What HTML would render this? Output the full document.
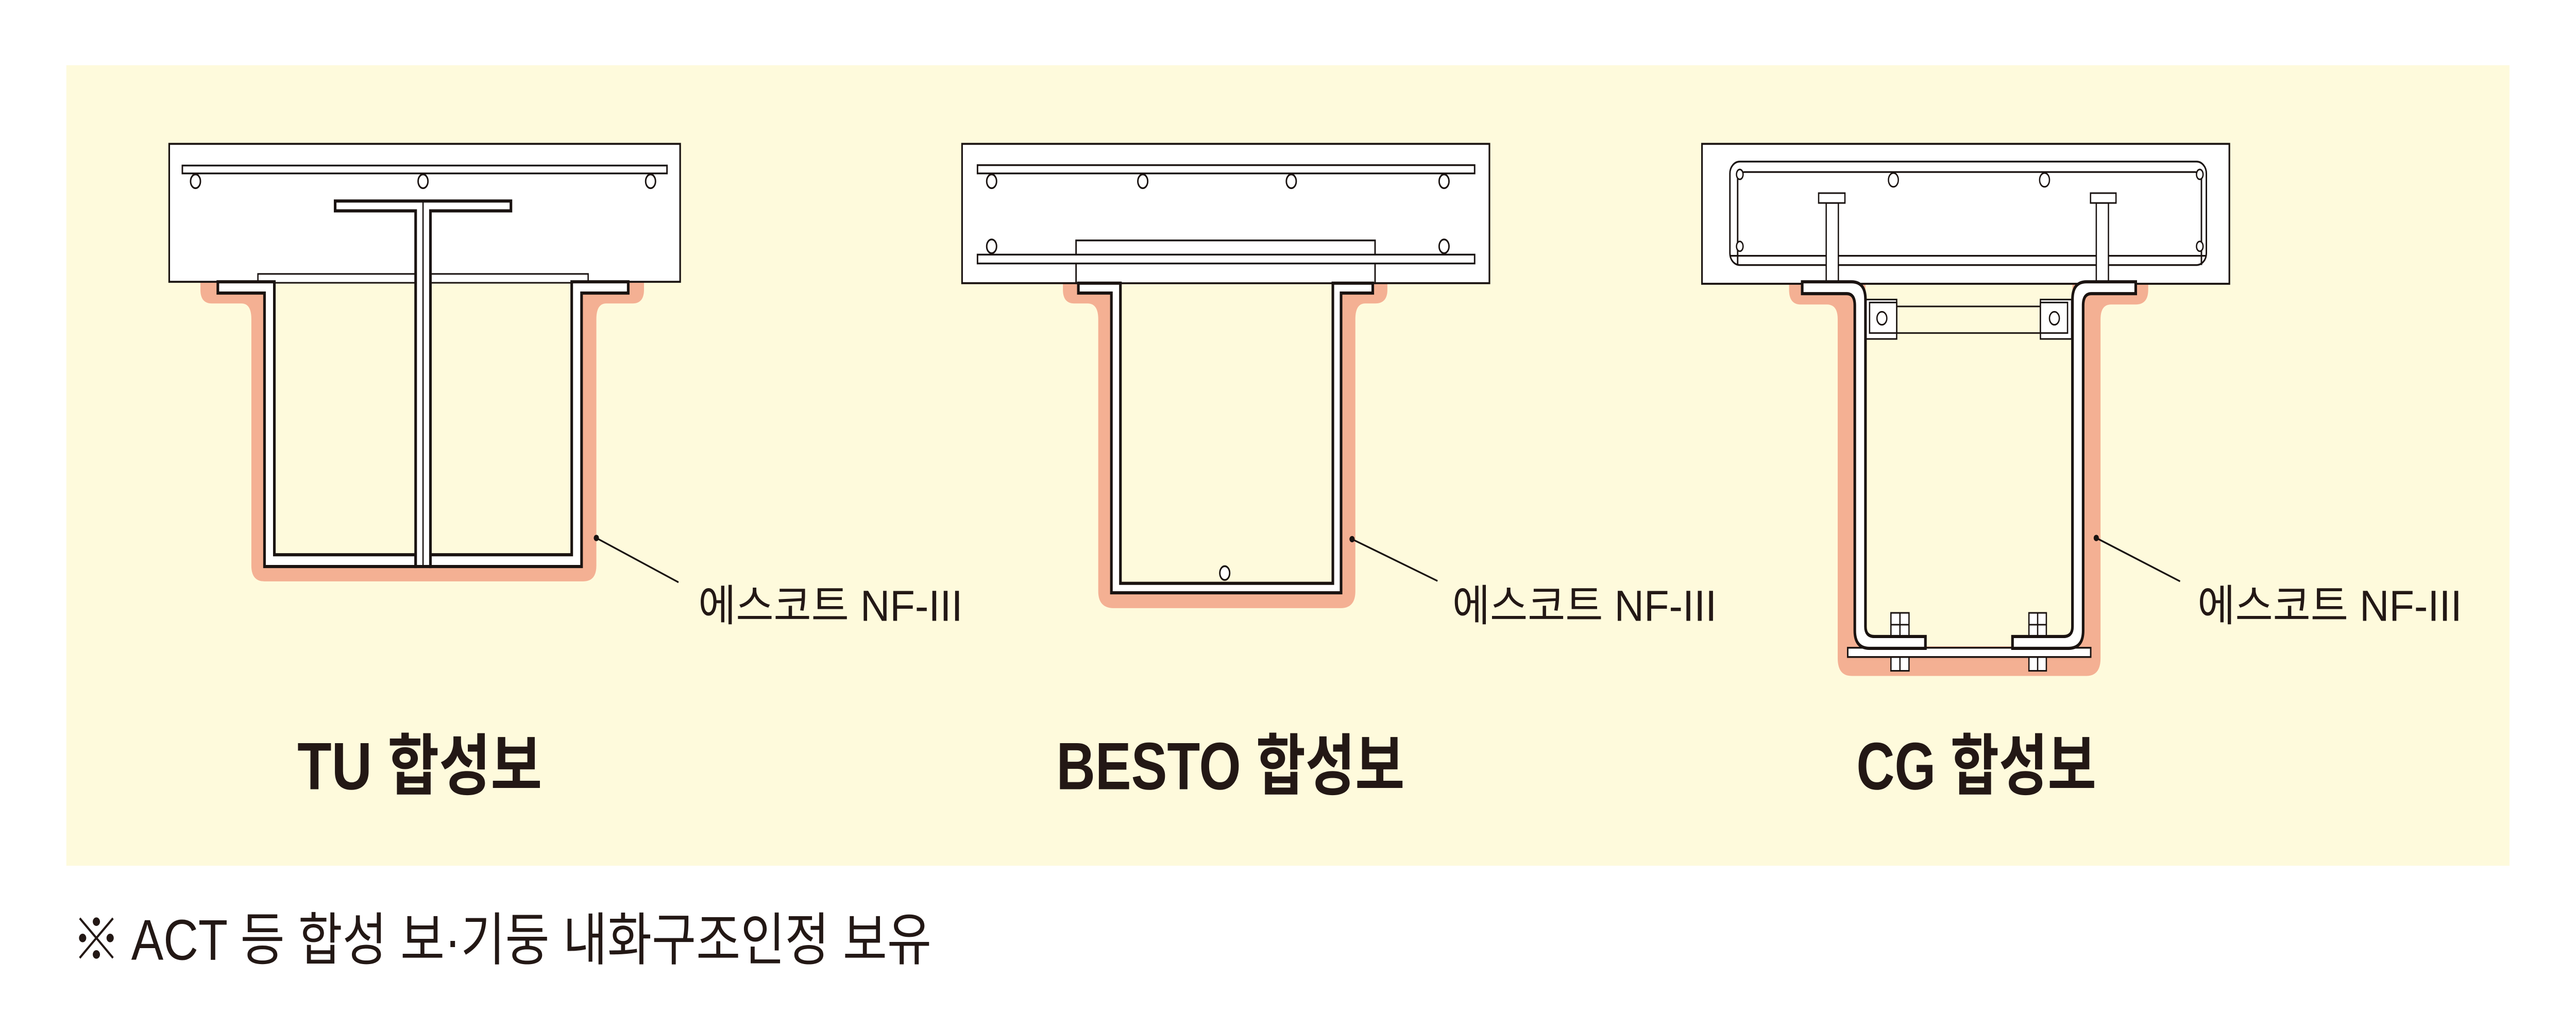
<!DOCTYPE html>
<html><head><meta charset="utf-8"><style>
html,body{margin:0;padding:0;background:#fff;width:100%;height:100%;overflow:hidden;}
svg{display:block;width:100vw;height:100vh;}
text{font-family:"Liberation Sans","Noto Sans CJK KR",sans-serif;fill:#231815;}
</style></head><body>
<svg viewBox="0 0 1568 522.67" preserveAspectRatio="none" xmlns="http://www.w3.org/2000/svg">
<rect x="0" y="0" width="1568" height="522.67" fill="#fff"/>
<rect x="40.4" y="33.1" width="1487.1" height="406.2" fill="#fefadc"/>

<g stroke="#1a1311" stroke-width="1">
<!-- ===== TU ===== -->
<path d="M122,143 H392 V147 Q392,154 385,154 H369 Q363,154 363,162 V287 Q363,295 355,295 H161 Q153,295 153,287 V162 Q153,154 147,154 H129 Q122,154 122,147 Z" fill="#f4b093" stroke="none"/>
<rect x="167" y="143" width="181" height="138.5" fill="#fefadc" stroke="none"/>
<rect x="103" y="73" width="311" height="70" fill="#fff"/>
<rect x="111" y="84" width="295" height="4" fill="#fff" stroke-width="0.9"/>
<g fill="#fff" stroke-width="0.9">
<ellipse cx="119" cy="92" rx="3" ry="3.5"/><ellipse cx="257.5" cy="92" rx="3" ry="3.5"/><ellipse cx="396" cy="92" rx="3" ry="3.5"/>
</g>
<rect x="157" y="139" width="201" height="4.5" fill="#fff" stroke-width="0.8"/>
<path d="M132.6,143 H167 V281.5 H253 V287.5 H161 V148.7 H132.6 Z" fill="#fff" stroke-width="1.6"/>
<path d="M382.4,143 H348 V281.5 H262 V287.5 H354 V148.7 H382.4 Z" fill="#fff" stroke-width="1.6"/>
<path d="M204,102 H311 V107 H262 V287.5 H253 V107 H204 Z" fill="#fff" stroke-width="1.6"/>
<line x1="257.5" y1="102" x2="257.5" y2="287.5" stroke-width="0.8"/>

<!-- ===== BESTO ===== -->
<path d="M647,143.7 H844.5 V147 Q844.5,154 837,154 H831 Q825,154 825,162 V300 Q825,308.6 816,308.6 H678 Q668.5,308.6 668.5,300 V162 Q668.5,154 662,154 H654 Q647,154 647,147 Z" fill="#f4b093" stroke="none"/>
<rect x="682" y="143.7" width="129.3" height="152.3" fill="#fefadc" stroke="none"/>
<rect x="585.6" y="73" width="321" height="70.7" fill="#fff"/>
<rect x="655" y="122" width="182" height="21.7" fill="#fff" stroke-width="0.9"/>
<rect x="595" y="83.8" width="302.6" height="4.2" fill="#fff" stroke-width="0.9"/>
<rect x="595" y="129.2" width="302.6" height="4.5" fill="#fff" stroke-width="0.9"/>
<g fill="#fff" stroke-width="0.9">
<ellipse cx="603.6" cy="92" rx="3" ry="3.5"/><ellipse cx="695.6" cy="92" rx="3" ry="3.5"/><ellipse cx="786" cy="92" rx="3" ry="3.5"/><ellipse cx="879" cy="92" rx="3" ry="3.5"/>
<ellipse cx="603.6" cy="125" rx="3" ry="3.5"/><ellipse cx="879" cy="125" rx="3" ry="3.5"/>
</g>
<path d="M656.4,143.7 H682 V296 H811.3 V143.7 H835.6 V148.7 H816.3 V300.8 H676.5 V148.7 H656.4 Z" fill="#fff" stroke-width="1.6"/>
<ellipse cx="745.5" cy="290.8" rx="3" ry="3.5" fill="#fff" stroke-width="0.9"/>

<!-- ===== CG ===== -->
<path d="M1089,143 H1307.6 V147 Q1307.6,154.5 1300,154.5 H1285 Q1278.6,154.5 1278.6,162 V334 Q1278.6,343 1270,343 H1127 Q1118.6,343 1118.6,334 V162 Q1118.6,154.5 1112,154.5 H1096 Q1089,154.5 1089,147 Z" fill="#f4b093" stroke="none"/>
<rect x="1135.5" y="144" width="126" height="184" fill="#fefadc" stroke="none"/>
<rect x="1036" y="73" width="321" height="71" fill="#fff"/>
<rect x="1053" y="82" width="290" height="52.5" rx="6" fill="#fff" stroke-width="0.9"/>
<path d="M1062,87.3 H1336 Q1340,87.3 1340,91 V129.8 M1057.7,129.8 V91 Q1057.7,87.3 1062,87.3 M1053,129.8 H1343" fill="none" stroke-width="0.9"/>
<line x1="1057.7" y1="129.8" x2="1057.7" y2="134.5" stroke-width="0.9"/>
<line x1="1340" y1="129.8" x2="1340" y2="134.5" stroke-width="0.9"/>
<g fill="#fff" stroke-width="0.8">
<ellipse cx="1059" cy="88.5" rx="2" ry="2.5"/><ellipse cx="1059" cy="125" rx="2" ry="2.5"/>
<ellipse cx="1339" cy="88.5" rx="2" ry="2.5"/><ellipse cx="1339" cy="125" rx="2" ry="2.5"/>
<ellipse cx="1152.5" cy="91.3" rx="3" ry="3.5"/><ellipse cx="1244.5" cy="91.3" rx="3" ry="3.5"/>
</g>
<g fill="#fff" stroke-width="0.8">
<rect x="1111.6" y="103" width="7.4" height="40"/><rect x="1107" y="98" width="16" height="5"/>
<rect x="1276" y="103" width="7.4" height="40"/><rect x="1272.5" y="98" width="15.5" height="5"/>
</g>
<g fill="#fff" stroke-width="0.8">
<rect x="1154.5" y="155.5" width="87.5" height="13.5" fill="#fefadc"/>
<rect x="1135.5" y="152" width="19" height="20"/><rect x="1138" y="153.5" width="16.5" height="15.5"/>
<rect x="1242" y="152" width="19" height="20"/><rect x="1242" y="153.5" width="16.5" height="15.5"/>
<ellipse cx="1145.5" cy="161.5" rx="3" ry="3.3"/><ellipse cx="1250.5" cy="161.5" rx="3" ry="3.3"/>
</g>
<g fill="#fff" stroke-width="0.8">
<rect x="1151" y="311" width="11" height="12.5"/><line x1="1156.5" y1="311" x2="1156.5" y2="323"/><line x1="1151" y1="317" x2="1162" y2="317"/>
<rect x="1151" y="333.4" width="11" height="7"/><line x1="1156.5" y1="333.4" x2="1156.5" y2="340.4"/>
<rect x="1235" y="311" width="10.6" height="12.5"/><line x1="1240.3" y1="311" x2="1240.3" y2="323"/><line x1="1235" y1="317" x2="1245.6" y2="317"/>
<rect x="1235" y="333.4" width="10.6" height="7"/><line x1="1240.3" y1="333.4" x2="1240.3" y2="340.4"/>
</g>
<rect x="1124.7" y="328.7" width="147.9" height="4.7" fill="#fff" stroke-width="0.9"/>
<path d="M1097,143 H1127 Q1135.5,143 1135.5,152 V318 Q1135.5,323 1141,323 H1172 V329 H1138 Q1129,329 1129,320 V155 Q1129,149 1124,149 H1097 Z" fill="#fff" stroke-width="1.6"/>
<path d="M1300,143 H1270 Q1261.5,143 1261.5,152 V318 Q1261.5,323 1256,323 H1225 V329 H1259 Q1268,329 1268,320 V155 Q1268,149 1273,149 H1300 Z" fill="#fff" stroke-width="1.6"/>

<line x1="363" y1="273" x2="413" y2="295.5" stroke-width="0.9"/>
<circle cx="363" cy="273" r="1.6" fill="#1a1311" stroke="none"/>
<line x1="823" y1="273.6" x2="875" y2="294.8" stroke-width="0.9"/>
<circle cx="823" cy="273.6" r="1.6" fill="#1a1311" stroke="none"/>
<line x1="1276" y1="273" x2="1327" y2="295" stroke-width="0.9"/>
<circle cx="1276" cy="273" r="1.6" fill="#1a1311" stroke="none"/>
</g>

<g font-size="22">
<text x="425" y="315" textLength="161" lengthAdjust="spacingAndGlyphs">에스코트 NF-III</text>
<text x="884" y="315" textLength="161" lengthAdjust="spacingAndGlyphs">에스코트 NF-III</text>
<text x="1337.6" y="315" textLength="161" lengthAdjust="spacingAndGlyphs">에스코트 NF-III</text>
</g>
<g font-size="34" font-weight="bold">
<text x="181" y="400.5" textLength="149" lengthAdjust="spacingAndGlyphs">TU 합성보</text>
<text x="643" y="400.5" textLength="212" lengthAdjust="spacingAndGlyphs">BESTO 합성보</text>
<text x="1130" y="400.5" textLength="146" lengthAdjust="spacingAndGlyphs">CG 합성보</text>
</g>
<text x="44" y="487" font-size="29" textLength="523" lengthAdjust="spacingAndGlyphs">※ ACT 등 합성 보·기둥 내화구조인정 보유</text>
</svg>
</body></html>
